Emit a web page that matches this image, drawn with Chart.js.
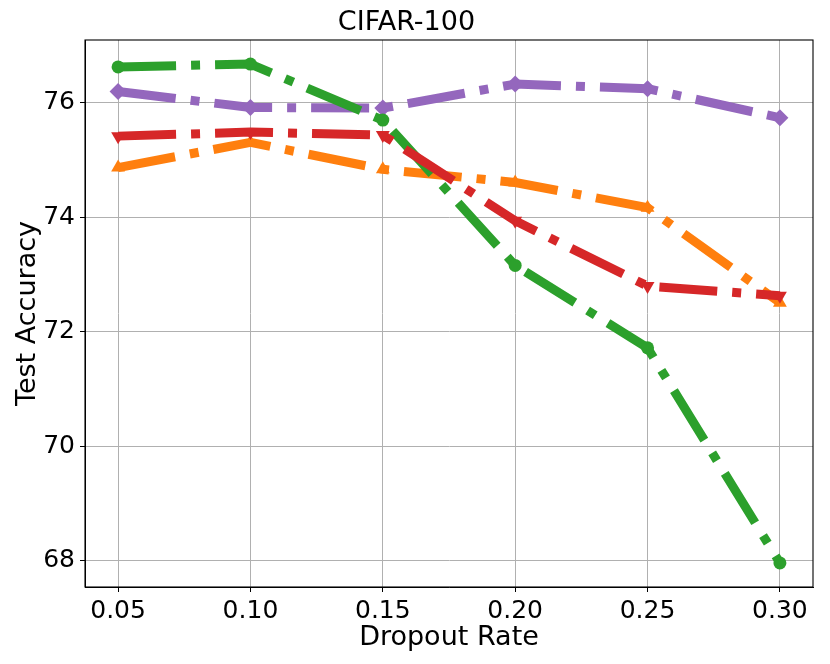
<!DOCTYPE html>
<html lang="en">
<head>
  <meta charset="UTF-8">
  <title>CIFAR-100</title>
  <style>
    body { margin: 0; padding: 0; background: #fff; }
    #wrap { width: 830px; height: 664px; }
  </style>
  <script src="https://cdn.jsdelivr.net/npm/chart.js"></script>
</head>
<body>
  <div id="wrap"><canvas id="chart" width="830" height="664"></canvas></div>

  <script>
    // values
    const dropoutRates = [0.05, 0.10, 0.15, 0.20, 0.25, 0.30];
    const greenAcc  = [76.63, 76.68, 75.70, 73.16, 71.72, 67.96];
    const purpleAcc = [76.20, 75.92, 75.91, 76.33, 76.25, 75.74];
    const redAcc    = [75.42, 75.49, 75.44, 73.94, 72.80, 72.63];
    const orangeAcc = [74.87, 75.31, 74.84, 74.61, 74.17, 72.51];
    const xTicks = [0.05, 0.10, 0.15, 0.20, 0.25, 0.30];
    const yTicks = [68, 70, 72, 74, 76];

    const FONT = 'DejaVu Sans';
    const dashDot = [58, 15, 9, 15];

    function series(values, color, style, radius, rotation) {
      return {
        data: dropoutRates.map((x, i) => ({ x: x, y: values[i] })),
        borderColor: color,
        backgroundColor: color,
        borderWidth: 9,
        borderDash: dashDot,
        borderCapStyle: 'butt',
        borderJoinStyle: 'round',
        tension: 0,
        pointStyle: style,
        pointRadius: radius,
        pointRotation: rotation || 0,
        pointBorderWidth: 0,
        fill: false
      };
    }

    // draws the box round the plot area
    const frame = {
      id: 'frame',
      afterDraw(chart) {
        const a = chart.chartArea, ctx = chart.ctx;
        ctx.save();
        ctx.strokeStyle = '#000';
        ctx.lineWidth = 1.1;
        ctx.strokeRect(a.left, a.top, a.right - a.left, a.bottom - a.top);
        ctx.restore();
      }
    };

    new Chart(document.getElementById('chart'), {
      type: 'line',
      data: {
        // first dataset is drawn on top
        datasets: [
          series(redAcc, '#d62728', 'triangle', 8, 180),
          series(greenAcc, '#2ca02c', 'circle', 6.5),
          series(orangeAcc, '#ff7f0e', 'triangle', 8),
          series(purpleAcc, '#9467bd', 'rectRot', 8.5)
        ]
      },
      options: {
        responsive: false,
        animation: false,
        layout: { padding: { left: 0, right: 17, top: 0, bottom: 0 } },
        plugins: {
          legend: { display: false },
          tooltip: { enabled: false },
          title: {
            display: true,
            text: 'CIFAR-100',
            color: '#000',
            font: { family: FONT, size: 27, weight: 'normal' },
            padding: { top: 7, bottom: 0.6 }
          }
        },
        scales: {
          x: {
            type: 'linear',
            min: 0.0375,
            max: 0.3125,
            afterBuildTicks(scale) { scale.ticks = xTicks.map(v => ({ value: v })); },
            afterFit(scale) { scale.height = 77; },
            ticks: {
              color: '#000',
              font: { family: FONT, size: 25 },
              padding: 4,
              maxRotation: 0,
              callback: v => v.toFixed(2)
            },
            grid: { color: '#b0b0b0', lineWidth: 1, tickLength: 5, tickColor: '#000' },
            border: { display: true, color: '#000', width: 1 },
            title: {
              display: true,
              text: 'Dropout Rate',
              color: '#000',
              font: { family: FONT, size: 27 },
              padding: { top: 0, bottom: 10 }
            }
          },
          y: {
            type: 'linear',
            min: 67.54,
            max: 77.10,
            afterBuildTicks(scale) { scale.ticks = yTicks.map(v => ({ value: v })); },
            afterFit(scale) { scale.width = 85; },
            ticks: {
              color: '#000',
              font: { family: FONT, size: 25 },
              padding: 5,
              callback: v => String(v)
            },
            grid: { color: '#b0b0b0', lineWidth: 1, tickLength: 5, tickColor: '#000' },
            border: { display: true, color: '#000', width: 1 },
            title: {
              display: true,
              text: 'Test Accuracy',
              color: '#000',
              font: { family: FONT, size: 27 },
              padding: { top: 11.8, bottom: 0 }
            }
          }
        }
      },
      plugins: [frame]
    });
  </script>
</body>
</html>
